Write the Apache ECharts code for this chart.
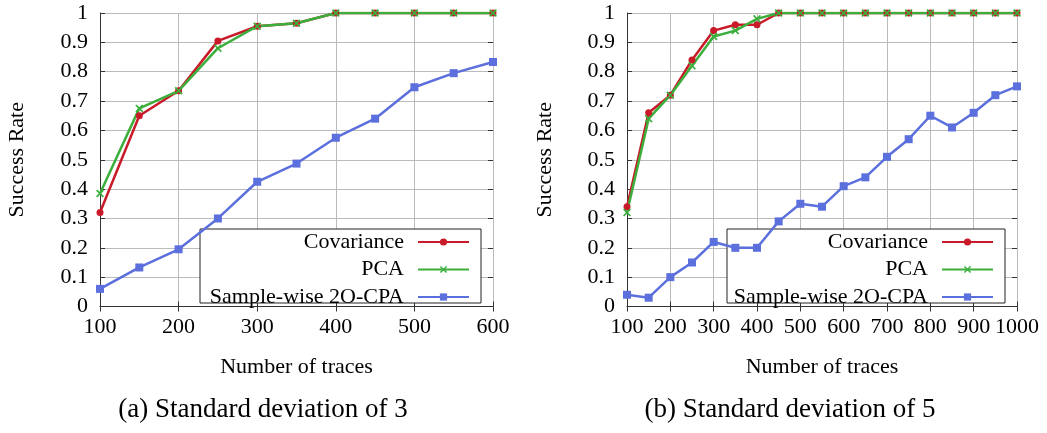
<!DOCTYPE html>
<html>
<head>
<meta charset="utf-8">
<script src="https://cdn.jsdelivr.net/npm/echarts@6/dist/echarts.min.js"></script>
<style>
  html, body { margin: 0; padding: 0; background: #fff; }
  #myChart { width: 1047px; height: 433px; }
</style>
</head>
<body>
<div id="myChart"></div>
<script>
// (a) std dev 3
var tracesA = [100, 150, 200, 250, 300, 350, 400, 450, 500, 550, 600];
var covA = [0.32, 0.65, 0.735, 0.905, 0.955, 0.965, 1, 1, 1, 1, 1];
var pcaA = [0.385, 0.675, 0.735, 0.88, 0.955, 0.965, 1, 1, 1, 1, 1];
var swA = [0.06, 0.133, 0.195, 0.30, 0.425, 0.487, 0.575, 0.64, 0.747, 0.795, 0.833];

// (b) std dev 5
var tracesB = [100, 150, 200, 250, 300, 350, 400, 450, 500, 550, 600, 650, 700, 750, 800, 850, 900, 950, 1000];
var covB = [0.34, 0.66, 0.72, 0.84, 0.94, 0.96, 0.96, 1, 1, 1, 1, 1, 1, 1, 1, 1, 1, 1, 1];
var pcaB = [0.32, 0.64, 0.72, 0.82, 0.92, 0.94, 0.98, 1, 1, 1, 1, 1, 1, 1, 1, 1, 1, 1, 1];
var swB = [0.04, 0.03, 0.10, 0.15, 0.22, 0.20, 0.20, 0.29, 0.35, 0.34, 0.41, 0.44, 0.51, 0.57, 0.65, 0.61, 0.66, 0.72, 0.75];

var seriesNames = ["Covariance", "PCA", "Sample-wise 2O-CPA"];
var captions = ["(a) Standard deviation of 3", "(b) Standard deviation of 5"];

var FONT = "Liberation Serif";
var RED = "#c81a28", GREEN = "#3cae3c", BLUE = "#5b6fdd";
var CROSS = "path://M0,1.5L1.5,0L5,3.5L8.5,0L10,1.5L6.5,5L10,8.5L8.5,10L5,6.5L1.5,10L0,8.5L3.5,5Z";

function pairs(xs, ys) {
  return xs.map(function (x, i) { return [x, ys[i]]; });
}

function xAxisPair(gridIndex, max) {
  return [
    {
      gridIndex: gridIndex, type: "value", min: 100, max: max, interval: 100,
      name: "Number of traces", nameLocation: "middle", nameGap: 50,
      nameTextStyle: { fontFamily: FONT, fontSize: 22, color: "#000" },
      axisLine: { show: true, lineStyle: { color: "#333", width: 1 } },
      axisTick: { show: true, inside: true, length: 5, lineStyle: { color: "#333" } },
      axisLabel: { fontFamily: FONT, fontSize: 22, color: "#000", margin: 10,
        formatter: function (v) { return String(v); } },
      splitLine: { show: true, lineStyle: { color: "#bbb", width: 1 } }
    },
    {
      gridIndex: gridIndex, type: "value", min: 100, max: max, interval: 100, position: "top",
      axisLine: { show: false },
      axisTick: { show: true, inside: true, length: 5, lineStyle: { color: "#333" } },
      axisLabel: { show: false },
      splitLine: { show: false }
    }
  ];
}

function yAxisPair(gridIndex, gap) {
  return [
    {
      gridIndex: gridIndex, type: "value", min: 0, max: 1, interval: 0.1,
      name: "Success Rate", nameLocation: "middle", nameGap: gap, nameRotate: 90,
      nameTextStyle: { fontFamily: FONT, fontSize: 22, color: "#000" },
      axisLine: { show: true, lineStyle: { color: "#333", width: 1 } },
      axisTick: { show: true, inside: true, length: 5, lineStyle: { color: "#333" } },
      axisLabel: { fontFamily: FONT, fontSize: 22, color: "#000", margin: 12 },
      splitLine: { show: true, lineStyle: { color: "#bbb", width: 1 } }
    },
    {
      gridIndex: gridIndex, type: "value", min: 0, max: 1, interval: 0.1, position: "right",
      axisLine: { show: false },
      axisTick: { show: true, inside: true, length: 5, lineStyle: { color: "#333" } },
      axisLabel: { show: false },
      splitLine: { show: false }
    }
  ];
}

function lineSeries(name, data, xi, yi, color, symbol, size) {
  return {
    name: name, type: "line", xAxisIndex: xi, yAxisIndex: yi,
    data: data, symbol: symbol, symbolSize: size, showSymbol: true,
    lineStyle: { color: color, width: 2.5 },
    itemStyle: { color: color },
    z: 2
  };
}

function legendAt(right) {
  return {
    orient: "vertical", align: "right", right: right, top: 231, padding: 0,
    itemWidth: 51, itemHeight: 9, itemGap: 5.5,
    selectedMode: false,
    textStyle: { fontFamily: FONT, fontSize: 22, color: "#000", lineHeight: 20, padding: [0, 9, 0, 0] },
    data: seriesNames,
    z: 5
  };
}

var myChart = echarts.init(document.getElementById("myChart"), null, { renderer: "canvas" });
myChart.setOption({
  animation: false,
  backgroundColor: "#fff",
  grid: [
    { left: 100, top: 13, width: 393, height: 293.5 },
    { left: 627, top: 13, width: 390, height: 293.5 }
  ],
  xAxis: xAxisPair(0, 600).concat(xAxisPair(1, 1000)),
  yAxis: yAxisPair(0, 72).concat(yAxisPair(1, 71)),
  legend: [legendAt(577), legendAt(53)],
  graphic: [
    // key boxes hide the grid but sit under the data lines
    { type: "rect", z: 1, shape: { x: 200, y: 229, width: 281, height: 74 },
      style: { fill: "#fff", stroke: "#222", lineWidth: 1 } },
    { type: "rect", z: 1, shape: { x: 727, y: 229, width: 278, height: 74 },
      style: { fill: "#fff", stroke: "#222", lineWidth: 1 } },
    { type: "text", z: 3, x: 263, y: 410,
      style: { text: captions[0], font: "27px '" + FONT + "'", fill: "#000", align: "center", verticalAlign: "middle" } },
    { type: "text", z: 3, x: 790, y: 410,
      style: { text: captions[1], font: "27px '" + FONT + "'", fill: "#000", align: "center", verticalAlign: "middle" } }
  ],
  series: [
    lineSeries(seriesNames[0], pairs(tracesA, covA), 0, 0, RED, "circle", 7),
    lineSeries(seriesNames[1], pairs(tracesA, pcaA), 0, 0, GREEN, CROSS, 8),
    lineSeries(seriesNames[2], pairs(tracesA, swA), 0, 0, BLUE, "rect", 8),
    lineSeries(seriesNames[0], pairs(tracesB, covB), 2, 2, RED, "circle", 7),
    lineSeries(seriesNames[1], pairs(tracesB, pcaB), 2, 2, GREEN, CROSS, 8),
    lineSeries(seriesNames[2], pairs(tracesB, swB), 2, 2, BLUE, "rect", 8)
  ]
});
</script>
</body>
</html>
